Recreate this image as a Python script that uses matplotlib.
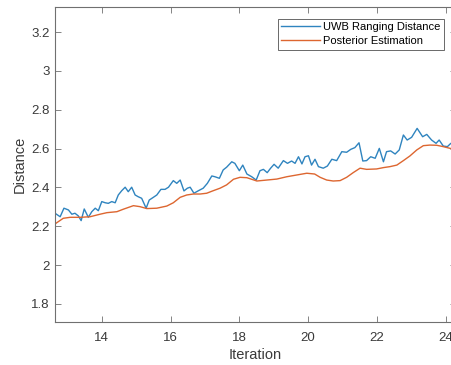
import numpy as np
import matplotlib.pyplot as plt
from matplotlib.ticker import FuncFormatter

plt.rcParams['font.family'] = ['Liberation Sans', 'DejaVu Sans']

# raw UWB ranging measurements
uwb_iter = [12.64, 12.79, 12.90, 13.03, 13.13, 13.22, 13.32, 13.40, 13.49, 13.61,
            13.71, 13.81, 13.90, 14.00, 14.10, 14.19, 14.29, 14.39, 14.48, 14.58,
            14.68, 14.77, 14.87, 14.97, 15.06, 15.16, 15.29, 15.38, 15.50, 15.60,
            15.72, 15.84, 15.94, 16.08, 16.18, 16.28, 16.39, 16.49, 16.57, 16.68,
            16.81, 16.95, 17.07, 17.20, 17.29, 17.42, 17.53, 17.63, 17.78, 17.87,
            18.00, 18.10, 18.22, 18.36, 18.49, 18.60, 18.70, 18.81, 18.91, 19.01,
            19.13, 19.28, 19.40, 19.52, 19.62, 19.72, 19.82, 19.91, 20.01, 20.10,
            20.20, 20.30, 20.44, 20.56, 20.69, 20.83, 20.98, 21.12, 21.24, 21.36,
            21.48, 21.59, 21.70, 21.82, 21.95, 22.07, 22.19, 22.28, 22.40, 22.53,
            22.65, 22.77, 22.88, 23.01, 23.17, 23.33, 23.45, 23.59, 23.72, 23.81,
            23.93, 24.05, 24.15, 24.30]
uwb_dist = [2.267, 2.249, 2.293, 2.284, 2.262, 2.267, 2.253, 2.229, 2.289, 2.246,
            2.275, 2.293, 2.280, 2.327, 2.321, 2.318, 2.327, 2.321, 2.361, 2.383,
            2.401, 2.378, 2.401, 2.361, 2.352, 2.344, 2.293, 2.335, 2.349, 2.361,
            2.390, 2.390, 2.401, 2.435, 2.421, 2.438, 2.382, 2.396, 2.401, 2.370,
            2.383, 2.396, 2.421, 2.459, 2.455, 2.447, 2.490, 2.504, 2.532, 2.524,
            2.486, 2.515, 2.469, 2.455, 2.438, 2.486, 2.493, 2.476, 2.499, 2.519,
            2.499, 2.538, 2.524, 2.536, 2.524, 2.558, 2.521, 2.558, 2.563, 2.515,
            2.545, 2.507, 2.499, 2.510, 2.545, 2.538, 2.584, 2.581, 2.596, 2.605,
            2.630, 2.536, 2.538, 2.558, 2.550, 2.601, 2.532, 2.584, 2.588, 2.572,
            2.593, 2.670, 2.644, 2.658, 2.704, 2.661, 2.673, 2.644, 2.627, 2.644,
            2.613, 2.610, 2.627, 2.620]

# filtered estimate
est_iter = [12.64, 12.88, 13.08, 13.37, 13.66, 13.95, 14.15, 14.44, 14.63, 14.92,
            15.11, 15.31, 15.60, 15.89, 16.08, 16.28, 16.47, 16.66, 16.86, 17.05,
            17.24, 17.44, 17.63, 17.83, 18.02, 18.22, 18.51, 18.80, 19.09, 19.38,
            19.67, 19.96, 20.19, 20.35, 20.54, 20.73, 20.93, 21.12, 21.31, 21.51,
            21.70, 21.99, 22.19, 22.38, 22.58, 22.77, 22.96, 23.16, 23.35, 23.54,
            23.74, 23.93, 24.13, 24.30]
est_dist = [2.212, 2.241, 2.246, 2.246, 2.249, 2.262, 2.270, 2.275, 2.288, 2.306,
            2.301, 2.291, 2.293, 2.304, 2.321, 2.349, 2.361, 2.366, 2.366, 2.370,
            2.383, 2.396, 2.413, 2.442, 2.452, 2.450, 2.433, 2.438, 2.443, 2.455,
            2.464, 2.473, 2.469, 2.452, 2.438, 2.433, 2.435, 2.452, 2.476, 2.499,
            2.493, 2.495, 2.502, 2.507, 2.515, 2.538, 2.562, 2.593, 2.615, 2.618,
            2.617, 2.610, 2.601, 2.595]

x_ticks = [14, 16, 18, 20, 22, 24]
y_ticks = [1.8, 2.0, 2.2, 2.4, 2.6, 2.8, 3.0, 3.2]

W, H = 451, 365
fig = plt.figure(figsize=(W / 100, H / 100), dpi=100)
ax = fig.add_axes([55 / W, 43 / H, 401 / W, 315 / H])

ax.plot(uwb_iter, uwb_dist, color='#2f84bf', lw=1.0, label='UWB Ranging Distance')
ax.plot(est_iter, est_dist, color='#dd6630', lw=1.0, label='Posterior Estimation')

ax.set_xlim(12.64, 24.30)
ax.set_ylim(1.707, 3.329)
ax.set_xticks(x_ticks)
ax.set_yticks(y_ticks)
ax.yaxis.set_major_formatter(FuncFormatter(lambda v, p: '%g' % v))

axis_col = '#707070'
for s in ax.spines.values():
    s.set_color(axis_col)
    s.set_linewidth(0.8)
ax.tick_params(direction='in', length=4, width=0.6, color=axis_col,
               labelsize=9.5, labelcolor='#3a3a3a', top=True, right=True)
ax.tick_params(axis='y', pad=4)
ax.tick_params(axis='x', pad=7)

ax.set_xlabel('Iteration', fontsize=10.5, color='#3a3a3a', labelpad=3)
ax.set_ylabel('Distance', fontsize=10.5, color='#3a3a3a', labelpad=3)

# legend pinned to the upper right corner of the plot box
leg = fig.legend(loc='upper right', bbox_to_anchor=(444 / W, (H - 19) / H),
                 bbox_transform=fig.transFigure, borderaxespad=0,
                 fontsize=8, handlelength=3.5, handletextpad=0.3,
                 labelspacing=0.35, borderpad=0.3, fancybox=False)
leg.get_frame().set_edgecolor('#262626')
leg.get_frame().set_linewidth(0.6)

fig.savefig('out.png', dpi=100)
